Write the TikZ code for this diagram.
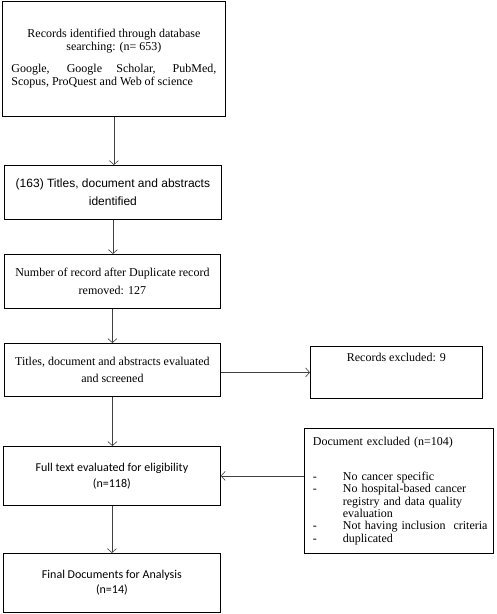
\documentclass[tikz,border=0pt]{standalone}
\usepackage{fontspec}
\setmainfont{Liberation Serif}
\newfontfamily\arialfont{Liberation Sans}
\newfontfamily\calibrifont{Carlito}
\usetikzlibrary{arrows.meta}
\newcommand{\dashitem}{\makebox[30pt][l]{-}}

\begin{document}
\begin{tikzpicture}[x=1pt,y=-1pt,
  box/.style={draw,line width=0.8pt,anchor=north west,align=center,inner sep=4pt},
  arr/.style={draw=black!75,line width=0.6pt,-{Straight Barb[length=4pt,width=9pt]}}]
\useasboundingbox (0,0) rectangle (497,614);

\node[box,minimum width=223pt,minimum height=115pt,text width=205pt,align=justify,
  font=\fontsize{12}{13}\selectfont] (rec) at (2,1)
  {{\centering Records identified through database\\searching: (n= 653)\par}\vspace{9pt}Google, Google Scholar, PubMed,\linebreak Scopus, ProQuest and Web of science};
\node[box,minimum width=217pt,minimum height=54pt,font=\arialfont\fontsize{12}{18}\selectfont] (ident) at (4,165)
  {(163) Titles, document and abstracts\\identified};
\node[box,minimum width=216pt,minimum height=54pt,font=\fontsize{12}{18}\selectfont] (dup) at (4,254)
  {Number of record after Duplicate record\\removed: 127};
\node[box,minimum width=216pt,minimum height=53pt,font=\fontsize{12}{16.5}\selectfont] (screen) at (4,343)
  {Titles, document and abstracts evaluated\\and screened};
\node[box,minimum width=172pt,text height=11pt,text depth=33pt,font=\fontsize{12}{13}\selectfont] (excl) at (310,346)
  {Records excluded: 9};
\node[box,minimum width=217pt,minimum height=59pt,font=\calibrifont\fontsize{12}{16}\selectfont] (full) at (3,446)
  {Full text evaluated for eligibility\\(n=118)};
\node[box,minimum width=189pt,minimum height=125pt,text width=172pt,align=left,
  font=\fontsize{12}{12.3}\selectfont] (docx) at (304,428)
  {\vspace*{2pt}Document excluded (n=104)\\[21pt]
   \dashitem No cancer specific\\
   \dashitem No hospital-based cancer\\
   \hspace*{30pt}registry and data quality\\
   \hspace*{30pt}evaluation\\
   \dashitem\mbox{Not having inclusion\ \ criteria}\\
   \dashitem duplicated};
\node[box,minimum width=217pt,minimum height=59pt,font=\calibrifont\fontsize{12}{15}\selectfont] (final) at (3,553)
  {Final Documents for Analysis\\(n=14)};

\draw[arr] (rec.south) -- (rec.south |- ident.north);
\draw[arr] (ident.south) -- (ident.south |- dup.north);
\draw[arr] (dup.south) -- (dup.south |- screen.north);
\draw[arr] (screen.south) -- (screen.south |- full.north);
\draw[arr] (full.south) -- (full.south |- final.north);
\draw[arr] (screen.east |- excl.west) -- (excl.west);
\draw[arr] (full.east -| docx.west) -- (full.east);
\end{tikzpicture}
\end{document}
